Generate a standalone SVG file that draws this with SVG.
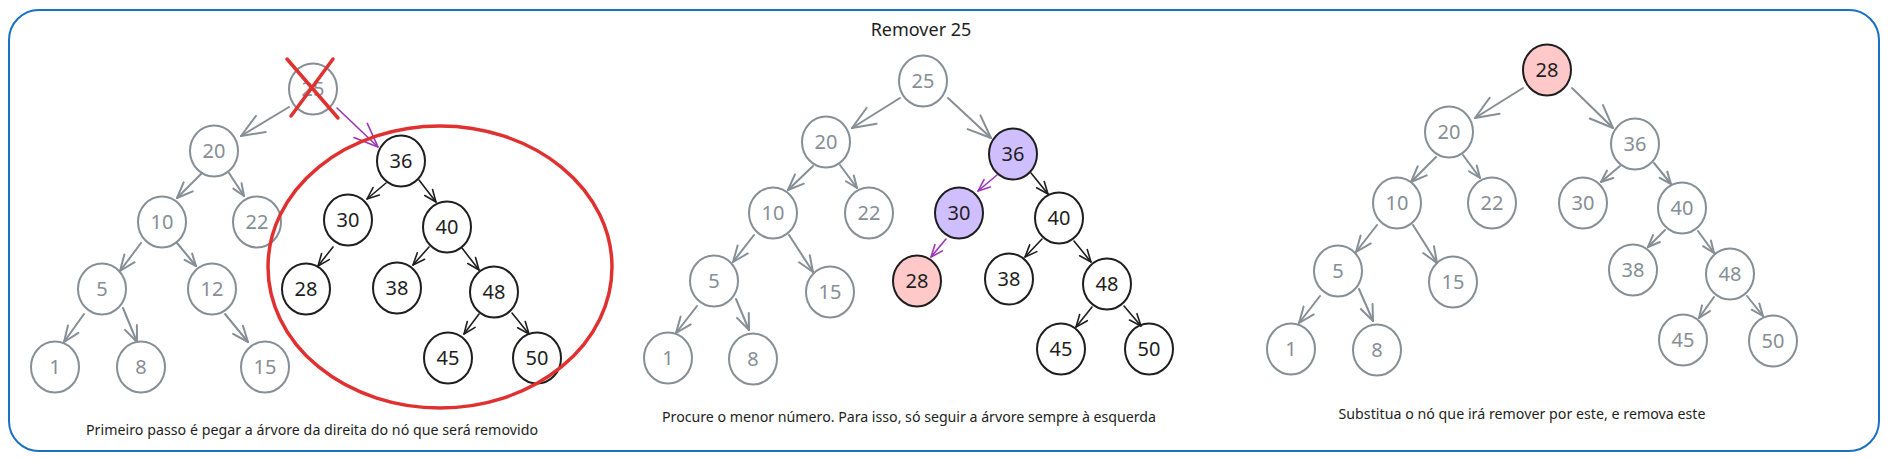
<svg xmlns="http://www.w3.org/2000/svg" width="1888" height="460" viewBox="0 0 1888 460">
<style>
.frame{fill:#ffffff;stroke:#1971c2;stroke-width:2}
.n ellipse{stroke-width:2}
.g ellipse{fill:none;stroke:#868e96}
.k ellipse{fill:none;stroke:#1e1e1e}
.p ellipse{fill:#d0bfff;stroke:#1e1e1e}
.r ellipse{fill:#ffc9c9;stroke:#1e1e1e}
.n text{font-family:"Noto Sans","Open Sans",sans-serif;font-size:20px;text-anchor:middle}
.g text{fill:#868e96}
.k text,.p text,.r text{fill:#1e1e1e}
.cap{font-family:"Noto Sans","Open Sans",sans-serif;font-size:14.2px;fill:#1e1e1e;text-anchor:middle}
.title{font-family:"Noto Sans","Open Sans",sans-serif;font-size:18px;fill:#1e1e1e;text-anchor:middle}
.cg{stroke:#868e96;stroke-width:2;fill:none;stroke-linecap:round}
.ck{stroke:#1e1e1e;stroke-width:1.6;fill:none;stroke-linecap:round}
.cp{stroke:#9c36b5;stroke-width:1.6;fill:none;stroke-linecap:round}
.cg.L{marker-end:url(#gL)}
.cg.M{marker-end:url(#gM)}
.cg.S{marker-end:url(#gS)}
.ck.S{marker-end:url(#kS)}
.cp.L{marker-end:url(#pL)}
.cp.S{marker-end:url(#pS)}
.red{stroke:#e03131;fill:none;stroke-width:3.5;stroke-linecap:round}
</style>
<defs>
<marker id="gL" markerUnits="userSpaceOnUse" viewBox="-30 -15 34 30" markerWidth="34" markerHeight="30" refX="0" refY="0" orient="auto" overflow="visible"><path d="M-23.2,-9.4 L0,0 L-23.2,9.4" fill="none" stroke="#868e96" stroke-width="2" stroke-linecap="round" stroke-linejoin="round"/></marker>
<marker id="gM" markerUnits="userSpaceOnUse" viewBox="-30 -15 34 30" markerWidth="34" markerHeight="30" refX="0" refY="0" orient="auto" overflow="visible"><path d="M-15.8,-6.4 L0,0 L-15.8,6.4" fill="none" stroke="#868e96" stroke-width="2" stroke-linecap="round" stroke-linejoin="round"/></marker>
<marker id="gS" markerUnits="userSpaceOnUse" viewBox="-30 -15 34 30" markerWidth="34" markerHeight="30" refX="0" refY="0" orient="auto" overflow="visible"><path d="M-12,-4.9 L0,0 L-12,4.9" fill="none" stroke="#868e96" stroke-width="2" stroke-linecap="round" stroke-linejoin="round"/></marker>
<marker id="kS" markerUnits="userSpaceOnUse" viewBox="-30 -15 34 30" markerWidth="34" markerHeight="30" refX="0" refY="0" orient="auto" overflow="visible"><path d="M-12,-4.9 L0,0 L-12,4.9" fill="none" stroke="#1e1e1e" stroke-width="1.6" stroke-linecap="round" stroke-linejoin="round"/></marker>
<marker id="pL" markerUnits="userSpaceOnUse" viewBox="-30 -15 34 30" markerWidth="34" markerHeight="30" refX="0" refY="0" orient="auto" overflow="visible"><path d="M-24,-9.7 L0,0 L-24,9.7" fill="none" stroke="#9c36b5" stroke-width="1.6" stroke-linecap="round" stroke-linejoin="round"/></marker>
<marker id="pS" markerUnits="userSpaceOnUse" viewBox="-30 -15 34 30" markerWidth="34" markerHeight="30" refX="0" refY="0" orient="auto" overflow="visible"><path d="M-12,-4.9 L0,0 L-12,4.9" fill="none" stroke="#9c36b5" stroke-width="1.6" stroke-linecap="round" stroke-linejoin="round"/></marker>
</defs>
<rect class="frame" x="9" y="10" width="1870" height="441" rx="30" ry="30"/>
<text class="title" x="921" y="36">Remover 25</text>

<g id="connectors">
<!-- panel 1 -->
<path class="cg L" d="M289,107 L241,136"/>
<path class="cg M" d="M202,173 L177,198"/>
<path class="cg S" d="M229,173 L244,196"/>
<path class="cg M" d="M141,243 L120,271"/>
<path class="cg S" d="M177,243 L196,266"/>
<path class="cg M" d="M84,314 L64,342"/>
<path class="cg M" d="M123,308 L137,342"/>
<path class="cg M" d="M225,314 L248,342"/>
<path class="cp L" d="M337,108 L378,147"/>
<path class="ck S" d="M386,183 L367,199"/>
<path class="ck S" d="M419,180 L436,202"/>
<path class="ck S" d="M333,247 L318,266"/>
<path class="ck S" d="M429,247 L413,265"/>
<path class="ck S" d="M462,248 L479,270"/>
<path class="ck S" d="M479,314 L464,334"/>
<path class="ck S" d="M512,313 L529,334"/>
<!-- panel 2 -->
<path class="cg L" d="M900,98 L852,128"/>
<path class="cg L" d="M948,98 L991,138"/>
<path class="cg M" d="M813,166 L788,190"/>
<path class="cg S" d="M840,165 L857,188"/>
<path class="cg M" d="M754,235 L733,262"/>
<path class="cg M" d="M789,235 L813,272"/>
<path class="cg M" d="M697,306 L676,333"/>
<path class="cg M" d="M736,299 L749,330"/>
<path class="cp S" d="M997,175 L978,191"/>
<path class="cp S" d="M946,239 L931,257"/>
<path class="ck S" d="M1031,173 L1048,194"/>
<path class="ck S" d="M1042,239 L1025,257"/>
<path class="ck S" d="M1074,241 L1091,262"/>
<path class="ck S" d="M1092,307 L1076,327"/>
<path class="ck S" d="M1124,306 L1141,326"/>
<!-- panel 3 -->
<path class="cg L" d="M1523,88 L1475,118"/>
<path class="cg L" d="M1572,88 L1613,128"/>
<path class="cg M" d="M1436,157 L1411,182"/>
<path class="cg S" d="M1463,155 L1480,178"/>
<path class="cg M" d="M1377,225 L1356,252"/>
<path class="cg M" d="M1413,225 L1437,263"/>
<path class="cg M" d="M1320,296 L1299,323"/>
<path class="cg M" d="M1359,289 L1373,321"/>
<path class="cg S" d="M1620,166 L1601,182"/>
<path class="cg S" d="M1654,163 L1671,184"/>
<path class="cg S" d="M1665,230 L1648,247"/>
<path class="cg S" d="M1698,231 L1714,253"/>
<path class="cg S" d="M1714,297 L1699,318"/>
<path class="cg S" d="M1747,296 L1763,316"/>
</g>

<!-- panel 1 nodes -->
<g id="p1-25" class="n g"><ellipse cx="313" cy="89" rx="24" ry="25.5"/><text x="313" y="96">25</text></g>
<g id="p1-20" class="n g"><ellipse cx="214" cy="151" rx="24" ry="25.5"/><text x="214" y="158">20</text></g>
<g id="p1-10" class="n g"><ellipse cx="162" cy="222" rx="24" ry="25.5"/><text x="162" y="229">10</text></g>
<g id="p1-22" class="n g"><ellipse cx="257" cy="222" rx="24" ry="25.5"/><text x="257" y="229">22</text></g>
<g id="p1-5" class="n g"><ellipse cx="102" cy="289" rx="24" ry="25.5"/><text x="102" y="296">5</text></g>
<g id="p1-12" class="n g"><ellipse cx="212" cy="289" rx="24" ry="25.5"/><text x="212" y="296">12</text></g>
<g id="p1-1" class="n g"><ellipse cx="55" cy="367" rx="24" ry="25.5"/><text x="55" y="374">1</text></g>
<g id="p1-8" class="n g"><ellipse cx="141" cy="367" rx="24" ry="25.5"/><text x="141" y="374">8</text></g>
<g id="p1-15" class="n g"><ellipse cx="265" cy="367" rx="24" ry="25.5"/><text x="265" y="374">15</text></g>
<g id="p1-36" class="n k"><ellipse cx="401" cy="161" rx="24" ry="25.5"/><text x="401" y="168">36</text></g>
<g id="p1-30" class="n k"><ellipse cx="348" cy="220" rx="24" ry="25.5"/><text x="348" y="227">30</text></g>
<g id="p1-40" class="n k"><ellipse cx="447" cy="227" rx="24" ry="25.5"/><text x="447" y="234">40</text></g>
<g id="p1-28" class="n k"><ellipse cx="306" cy="289" rx="24" ry="25.5"/><text x="306" y="296">28</text></g>
<g id="p1-38" class="n k"><ellipse cx="397" cy="288" rx="24" ry="25.5"/><text x="397" y="295">38</text></g>
<g id="p1-48" class="n k"><ellipse cx="494" cy="292" rx="24" ry="25.5"/><text x="494" y="299">48</text></g>
<g id="p1-45" class="n k"><ellipse cx="448" cy="358" rx="24" ry="25.5"/><text x="448" y="365">45</text></g>
<g id="p1-50" class="n k"><ellipse cx="537" cy="358" rx="24" ry="25.5"/><text x="537" y="365">50</text></g>
<g id="p1-marks">
<ellipse class="red" cx="440" cy="267" rx="172" ry="141"/>
<path class="red" d="M287,59 L338,118 M333,59 L291,116"/>
</g>
<text class="cap" x="312" y="435" textLength="452" lengthAdjust="spacing">Primeiro passo é pegar a árvore da direita do nó que será removido</text>

<!-- panel 2 nodes -->
<g id="p2-25" class="n g"><ellipse cx="923" cy="81" rx="24" ry="25.5"/><text x="923" y="88">25</text></g>
<g id="p2-20" class="n g"><ellipse cx="826" cy="142" rx="24" ry="25.5"/><text x="826" y="149">20</text></g>
<g id="p2-36" class="n p"><ellipse cx="1013" cy="154" rx="24" ry="25.5"/><text x="1013" y="161">36</text></g>
<g id="p2-10" class="n g"><ellipse cx="773" cy="213" rx="24" ry="25.5"/><text x="773" y="220">10</text></g>
<g id="p2-22" class="n g"><ellipse cx="869" cy="213" rx="24" ry="25.5"/><text x="869" y="220">22</text></g>
<g id="p2-30" class="n p"><ellipse cx="959" cy="213" rx="24" ry="25.5"/><text x="959" y="220">30</text></g>
<g id="p2-40" class="n k"><ellipse cx="1059" cy="218" rx="24" ry="25.5"/><text x="1059" y="225">40</text></g>
<g id="p2-5" class="n g"><ellipse cx="714" cy="281" rx="24" ry="25.5"/><text x="714" y="288">5</text></g>
<g id="p2-15" class="n g"><ellipse cx="830" cy="292" rx="24" ry="25.5"/><text x="830" y="299">15</text></g>
<g id="p2-28" class="n r"><ellipse cx="917" cy="281" rx="24" ry="25.5"/><text x="917" y="288">28</text></g>
<g id="p2-38" class="n k"><ellipse cx="1009" cy="279" rx="24" ry="25.5"/><text x="1009" y="286">38</text></g>
<g id="p2-48" class="n k"><ellipse cx="1107" cy="284" rx="24" ry="25.5"/><text x="1107" y="291">48</text></g>
<g id="p2-1" class="n g"><ellipse cx="668" cy="358" rx="24" ry="25.5"/><text x="668" y="365">1</text></g>
<g id="p2-8" class="n g"><ellipse cx="753" cy="359" rx="24" ry="25.5"/><text x="753" y="366">8</text></g>
<g id="p2-45" class="n k"><ellipse cx="1061" cy="349" rx="24" ry="25.5"/><text x="1061" y="356">45</text></g>
<g id="p2-50" class="n k"><ellipse cx="1149" cy="349" rx="24" ry="25.5"/><text x="1149" y="356">50</text></g>
<text class="cap" x="909" y="422" textLength="494" lengthAdjust="spacing">Procure o menor número. Para isso, só seguir a árvore sempre à esquerda</text>

<!-- panel 3 nodes -->
<g id="p3-28" class="n r"><ellipse cx="1547" cy="70" rx="24" ry="25.5"/><text x="1547" y="77">28</text></g>
<g id="p3-20" class="n g"><ellipse cx="1449" cy="132" rx="24" ry="25.5"/><text x="1449" y="139">20</text></g>
<g id="p3-36" class="n g"><ellipse cx="1635" cy="144" rx="24" ry="25.5"/><text x="1635" y="151">36</text></g>
<g id="p3-10" class="n g"><ellipse cx="1397" cy="203" rx="24" ry="25.5"/><text x="1397" y="210">10</text></g>
<g id="p3-22" class="n g"><ellipse cx="1492" cy="203" rx="24" ry="25.5"/><text x="1492" y="210">22</text></g>
<g id="p3-30" class="n g"><ellipse cx="1583" cy="203" rx="24" ry="25.5"/><text x="1583" y="210">30</text></g>
<g id="p3-40" class="n g"><ellipse cx="1682" cy="208" rx="24" ry="25.5"/><text x="1682" y="215">40</text></g>
<g id="p3-5" class="n g"><ellipse cx="1338" cy="271" rx="24" ry="25.5"/><text x="1338" y="278">5</text></g>
<g id="p3-15" class="n g"><ellipse cx="1453" cy="282" rx="24" ry="25.5"/><text x="1453" y="289">15</text></g>
<g id="p3-38" class="n g"><ellipse cx="1633" cy="270" rx="24" ry="25.5"/><text x="1633" y="277">38</text></g>
<g id="p3-48" class="n g"><ellipse cx="1730" cy="274" rx="24" ry="25.5"/><text x="1730" y="281">48</text></g>
<g id="p3-1" class="n g"><ellipse cx="1291" cy="349" rx="24" ry="25.5"/><text x="1291" y="356">1</text></g>
<g id="p3-8" class="n g"><ellipse cx="1377" cy="350" rx="24" ry="25.5"/><text x="1377" y="357">8</text></g>
<g id="p3-45" class="n g"><ellipse cx="1683" cy="340" rx="24" ry="25.5"/><text x="1683" y="347">45</text></g>
<g id="p3-50" class="n g"><ellipse cx="1773" cy="341" rx="24" ry="25.5"/><text x="1773" y="348">50</text></g>
<text class="cap" x="1522" y="419" textLength="367" lengthAdjust="spacing">Substitua o nó que irá remover por este, e remova este</text>
</svg>
